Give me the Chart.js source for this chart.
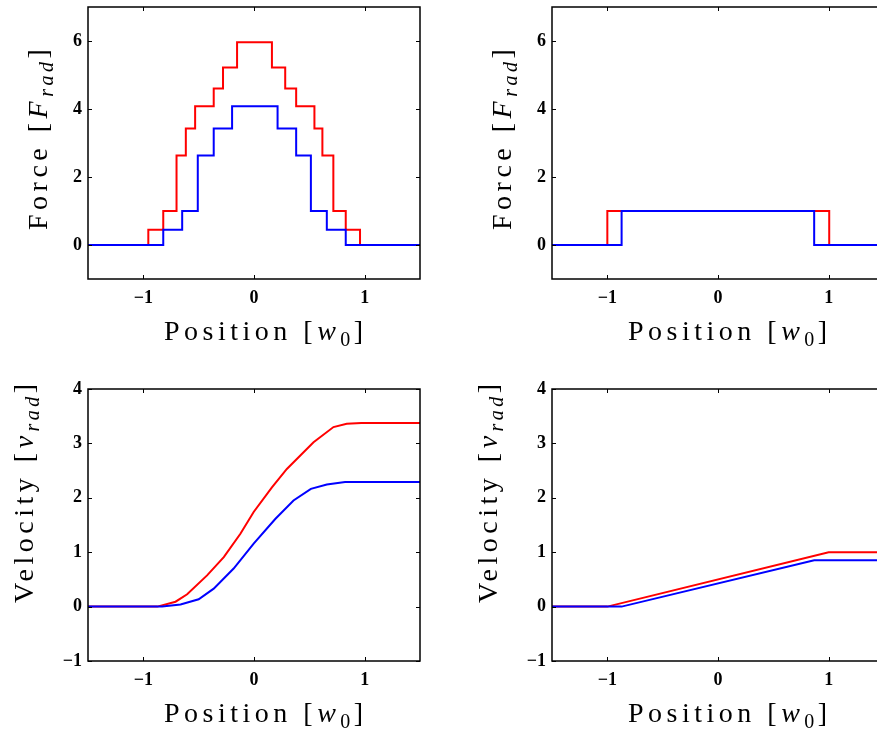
<!DOCTYPE html>
<html>
<head>
<meta charset="utf-8">
<script src="https://cdn.jsdelivr.net/npm/chart.js@4.4.1/dist/chart.umd.min.js"></script>
<style>
  html, body { margin: 0; padding: 0; background: #fff; overflow: hidden; width: 877px; height: 738px; }
  .panel { position: absolute; width: 440px; height: 369px; }
</style>
</head>
<body>
<div class="panel" style="left:0;top:0"><canvas id="forceSteps" width="440" height="369"></canvas></div>
<div class="panel" style="left:464px;top:0"><canvas id="forceBox" width="440" height="369"></canvas></div>
<div class="panel" style="left:0;top:369px"><canvas id="velSteps" width="440" height="369"></canvas></div>
<div class="panel" style="left:464px;top:369px"><canvas id="velBox" width="440" height="369"></canvas></div>
<script>
// tick values
const xTicks = [-1, 0, 1];
const forceTicks = [0, 2, 4, 6];
const velocityTicks = [-1, 0, 1, 2, 3, 4];

// top left: stepped force profile (x = where the step happens, y = new level)
const stepRedX  = [-1.5, -0.955, -0.82, -0.70, -0.616, -0.532, -0.364, -0.28, -0.153, 0.162, 0.282, 0.381, 0.546, 0.618, 0.717, 0.829, 0.958, 1.5];
const stepRedY  = [0, 0.45, 1.0, 2.63, 3.43, 4.08, 4.60, 5.22, 5.96, 5.22, 4.60, 4.08, 3.43, 2.63, 1.0, 0.45, 0, 0];
const stepBlueX = [-1.5, -0.82, -0.649, -0.508, -0.364, -0.198, 0.213, 0.381, 0.514, 0.658, 0.829, 1.5];
const stepBlueY = [0, 0.45, 1.0, 2.63, 3.43, 4.08, 3.43, 2.63, 1.0, 0.45, 0, 0];

// top right: single box force
const boxRedX  = [-1.5, -1.0, 1.005, 1.5];
const boxRedY  = [0, 1.0, 0, 0];
const boxBlueX = [-1.5, -0.871, 0.869, 1.5];
const boxBlueY = [0, 1.0, 0, 0];

// bottom left: velocity for the stepped force
const velRedX  = [-1.5, -0.874, -0.709, -0.604, -0.424, -0.273, -0.123, -0.003, 0.162, 0.297, 0.538, 0.718, 0.838, 0.97, 1.5];
const velRedY  = [0, 0, 0.09, 0.226, 0.574, 0.91, 1.34, 1.74, 2.19, 2.53, 3.02, 3.30, 3.36, 3.375, 3.375];
const velBlueX = [-1.5, -0.83, -0.664, -0.5, -0.364, -0.184, -0.003, 0.192, 0.357, 0.514, 0.658, 0.823, 1.5];
const velBlueY = [0, 0, 0.04, 0.134, 0.33, 0.70, 1.156, 1.61, 1.95, 2.165, 2.244, 2.29, 2.29];

// bottom right: velocity for the box force
const linRedX  = [-1.5, -1.0, 1.0, 1.5];
const linRedY  = [0, 0, 1.0, 1.0];
const linBlueX = [-1.5, -0.871, 0.869, 1.5];
const linBlueY = [0, 0, 0.85, 0.85];

const SERIF = '"Liberation Serif", "DejaVu Serif", serif';

const positionTitle = [
    { text: 'Position ' }, { text: '[' }, { text: 'w', italic: true }, { text: '0', sub: true }, { text: ']' }
];
const forceTitle = [
    { text: 'Force ' }, { text: '[' }, { text: 'F', italic: true }, { text: 'rad', italic: true, sub: true }, { text: ']' }
];
const velocityTitle = [
    { text: 'Velocity ' }, { text: '[' }, { text: 'v', italic: true }, { text: 'rad', italic: true, sub: true }, { text: ']' }
];

function pts(xs, ys) {
    return xs.map((x, i) => ({ x: x, y: ys[i] }));
}

function fmt(v) {
    return v < 0 ? '\u2212' + Math.abs(v) : String(v);
}

// draw a title made of font runs (italic / subscript pieces)
function drawRuns(ctx, runs, x0, y0, vertical) {
    ctx.save();
    ctx.translate(x0, y0);
    if (vertical) ctx.rotate(-Math.PI / 2);
    ctx.fillStyle = '#000';
    ctx.textBaseline = 'alphabetic';
    ctx.textAlign = 'left';
    let cx = 0;
    runs.forEach(r => {
        const size = r.sub ? 20 : 28;
        ctx.font = (r.italic ? 'italic ' : '') + size + 'px ' + SERIF;
        ctx.letterSpacing = (r.sub ? 3.5 : 4.5) + 'px';
        ctx.fillText(r.text, cx, r.sub ? 6 : 0);
        cx += ctx.measureText(r.text).width;
    });
    ctx.restore();
}

// MATLAB style box with inward ticks + axis titles
const framePlugin = {
    id: 'frame',
    afterDraw(chart, args, opts) {
        const { ctx, chartArea: a, scales: { x, y } } = chart;
        ctx.save();
        ctx.strokeStyle = '#000';
        ctx.lineWidth = 1.5;
        ctx.strokeRect(a.left, a.top, a.right - a.left, a.bottom - a.top);
        ctx.lineWidth = 1;
        ctx.beginPath();
        x.ticks.forEach(t => {
            const px = Math.round(x.getPixelForValue(t.value)) + 0.5;
            ctx.moveTo(px, a.bottom); ctx.lineTo(px, a.bottom - 4);
            ctx.moveTo(px, a.top); ctx.lineTo(px, a.top + 4);
        });
        y.ticks.forEach(t => {
            const py = Math.round(y.getPixelForValue(t.value)) + 0.5;
            ctx.moveTo(a.left, py); ctx.lineTo(a.left + 4, py);
            ctx.moveTo(a.right, py); ctx.lineTo(a.right - 4, py);
        });
        ctx.stroke();
        ctx.restore();

        const mid = (a.left + a.right) / 2;
        drawRuns(ctx, opts.xTitle, mid - 90, a.bottom + 61, false);
        drawRuns(ctx, opts.yTitle, a.left - opts.yTitleGap, a.bottom - opts.yTitleStart, true);
    }
};

function makeChart(id, red, blue, stepped, yMin, yMax, yTicks, yTitle, padTop, xHeight, yTitleGap, yTitleStart) {
    const tickFont = { family: SERIF, size: 18, weight: 'bold' };
    return new Chart(document.getElementById(id), {
        type: 'line',
        data: {
            datasets: [
                { data: blue, borderColor: '#0000ff', borderWidth: 2, pointRadius: 0, stepped: stepped, fill: false },
                { data: red, borderColor: '#ff0000', borderWidth: 2, pointRadius: 0, stepped: stepped, fill: false }
            ]
        },
        options: {
            responsive: false,
            animation: false,
            events: [],
            layout: { padding: { top: padTop, right: 20, bottom: 0, left: 0 } },
            plugins: {
                legend: { display: false },
                tooltip: { enabled: false },
                frame: { xTitle: positionTitle, yTitle: yTitle, yTitleGap: yTitleGap, yTitleStart: yTitleStart }
            },
            scales: {
                x: {
                    type: 'linear',
                    min: -1.5,
                    max: 1.5,
                    grid: { display: false, drawTicks: false },
                    border: { display: false },
                    afterBuildTicks: s => { s.ticks = xTicks.map(v => ({ value: v })); },
                    afterFit: s => { s.height = xHeight; s.paddingLeft = 0; s.paddingRight = 0; },
                    ticks: { color: '#000', font: tickFont, padding: 9, maxRotation: 0, callback: v => fmt(v) }
                },
                y: {
                    type: 'linear',
                    min: yMin,
                    max: yMax,
                    grid: { display: false, drawTicks: false },
                    border: { display: false },
                    afterBuildTicks: s => { s.ticks = yTicks.map(v => ({ value: v })); },
                    afterFit: s => { s.width = 88; s.paddingTop = 0; s.paddingBottom = 0; },
                    ticks: { color: '#000', font: tickFont, padding: 6, callback: v => fmt(v) }
                }
            }
        },
        plugins: [framePlugin]
    });
}

makeChart('forceSteps', pts(stepRedX, stepRedY), pts(stepBlueX, stepBlueY), true, -1, 7, forceTicks, forceTitle, 7, 90, 41, 49);
makeChart('forceBox', pts(boxRedX, boxRedY), pts(boxBlueX, boxBlueY), true, -1, 7, forceTicks, forceTitle, 7, 90, 41, 49);
makeChart('velSteps', pts(velRedX, velRedY), pts(velBlueX, velBlueY), false, -1, 4, velocityTicks, velocityTitle, 20, 77, 55, 58);
makeChart('velBox', pts(linRedX, linRedY), pts(linBlueX, linBlueY), false, -1, 4, velocityTicks, velocityTitle, 20, 77, 55, 58);
</script>
</body>
</html>
